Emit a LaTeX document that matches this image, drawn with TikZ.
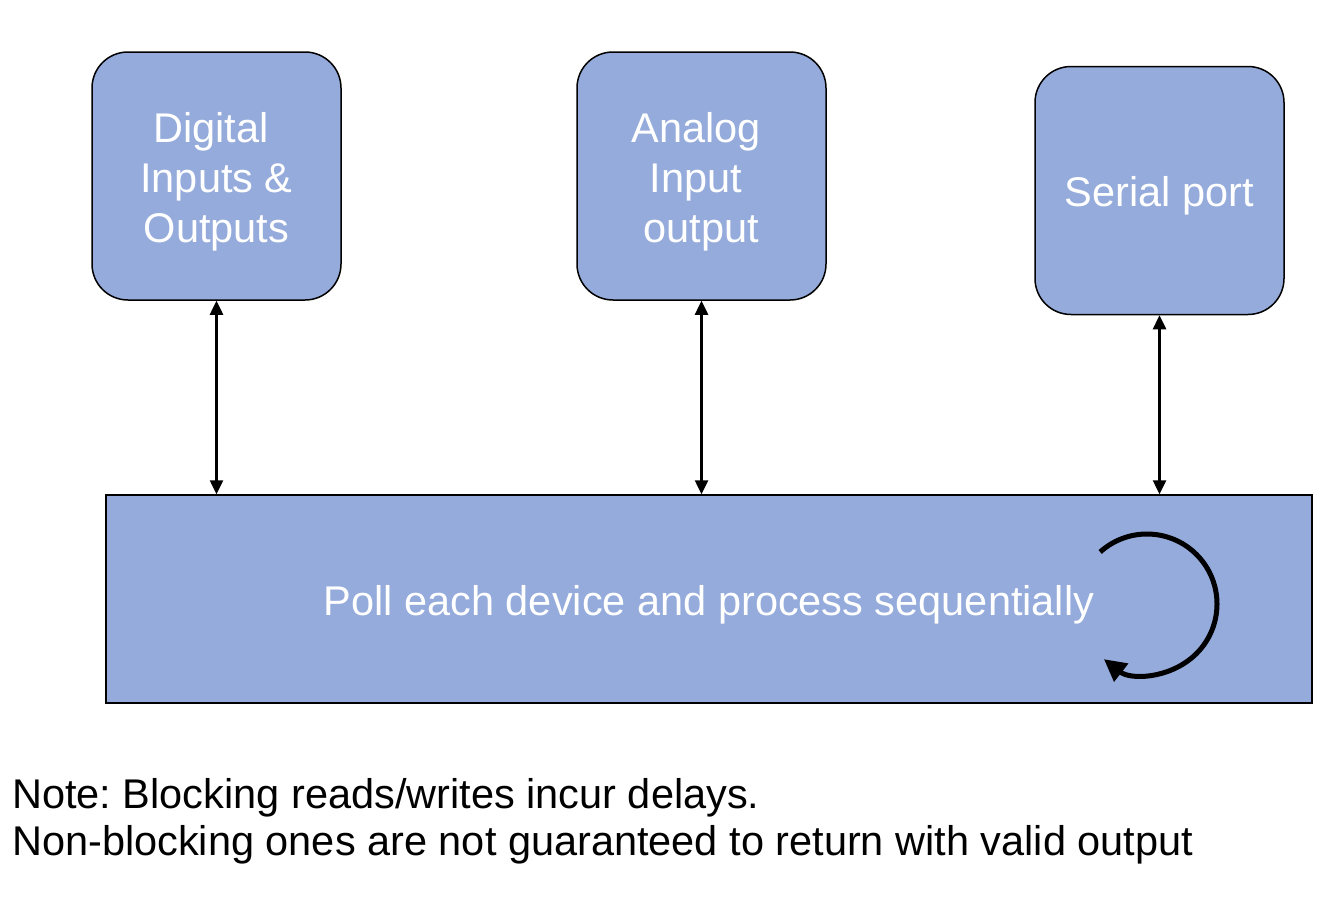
\documentclass[tikz,border=0pt]{standalone}
\usepackage{fontspec}
\setmainfont{Liberation Sans}
\frenchspacing
\usetikzlibrary{arrows.meta,calc}
\definecolor{boxblue}{RGB}{149,171,219}
\begin{document}
\begin{tikzpicture}[x=1pt,y=1pt,
  txt/.style={font=\fontsize{41.5pt}{50pt}\selectfont},
  devbox/.style={draw=black, line width=1.5pt, fill=boxblue, rounded corners=36pt,
    minimum width=249pt, minimum height=248pt, inner sep=0pt},
  bigbox/.style={draw=black, line width=1.5pt, fill=boxblue,
    minimum width=1206pt, minimum height=208pt, inner sep=0pt},
  boxtxt/.style={align=center, text=white, inner sep=0pt, txt},
  link/.style={line width=2.5pt, {Triangle[length=14pt,width=13pt]}-{Triangle[length=14pt,width=13pt]}},
  notetxt/.style={anchor=base west, inner sep=0pt, txt}
]
\useasboundingbox (0,0) rectangle (1334,-900);
\node[devbox] (dio) at (216.5,-176) {};
\node[devbox] (aio) at (701.5,-176) {};
\node[devbox] (ser) at (1159.5,-190.5) {};
\node[bigbox] (poll) at (709,-599) {};
\node[boxtxt] (diotxt) at ($(dio.center)+(0,-6)$) {Digital\hspace*{11pt}\\Inputs \&\\Outputs};
\node[boxtxt] (aiotxt) at ($(aio.center)+(0,-6)$) {\hspace*{-11pt}Analog\\\hspace*{-11pt}Input\\output};
\node[boxtxt] (sertxt) at ($(ser.center)+(0,-5)$) {Serial port};
\node[boxtxt] (polltxt) at ($(poll.center)+(0,-6)$) {Poll each device and process sequentially};
\draw[link] (dio.south) -- (dio.south |- poll.north);
\draw[link] (aio.south) -- (aio.south |- poll.north);
\draw[link] (ser.south) -- (ser.south |- poll.north);
\coordinate (loopc) at (1147,-604);
\draw[line width=5pt, -{Triangle[length=22pt,width=22pt]}]
  ($(loopc)+(132:70)$) arc[start angle=132, end angle=-128, radius=70pt];
\node[notetxt] (note1) at (12,-808) {Note: Blocking reads/writes incur delays.};
\node[notetxt] (note2) at (12,-855) {Non-blocking ones are not guaranteed to return with valid output};
\end{tikzpicture}
\end{document}
